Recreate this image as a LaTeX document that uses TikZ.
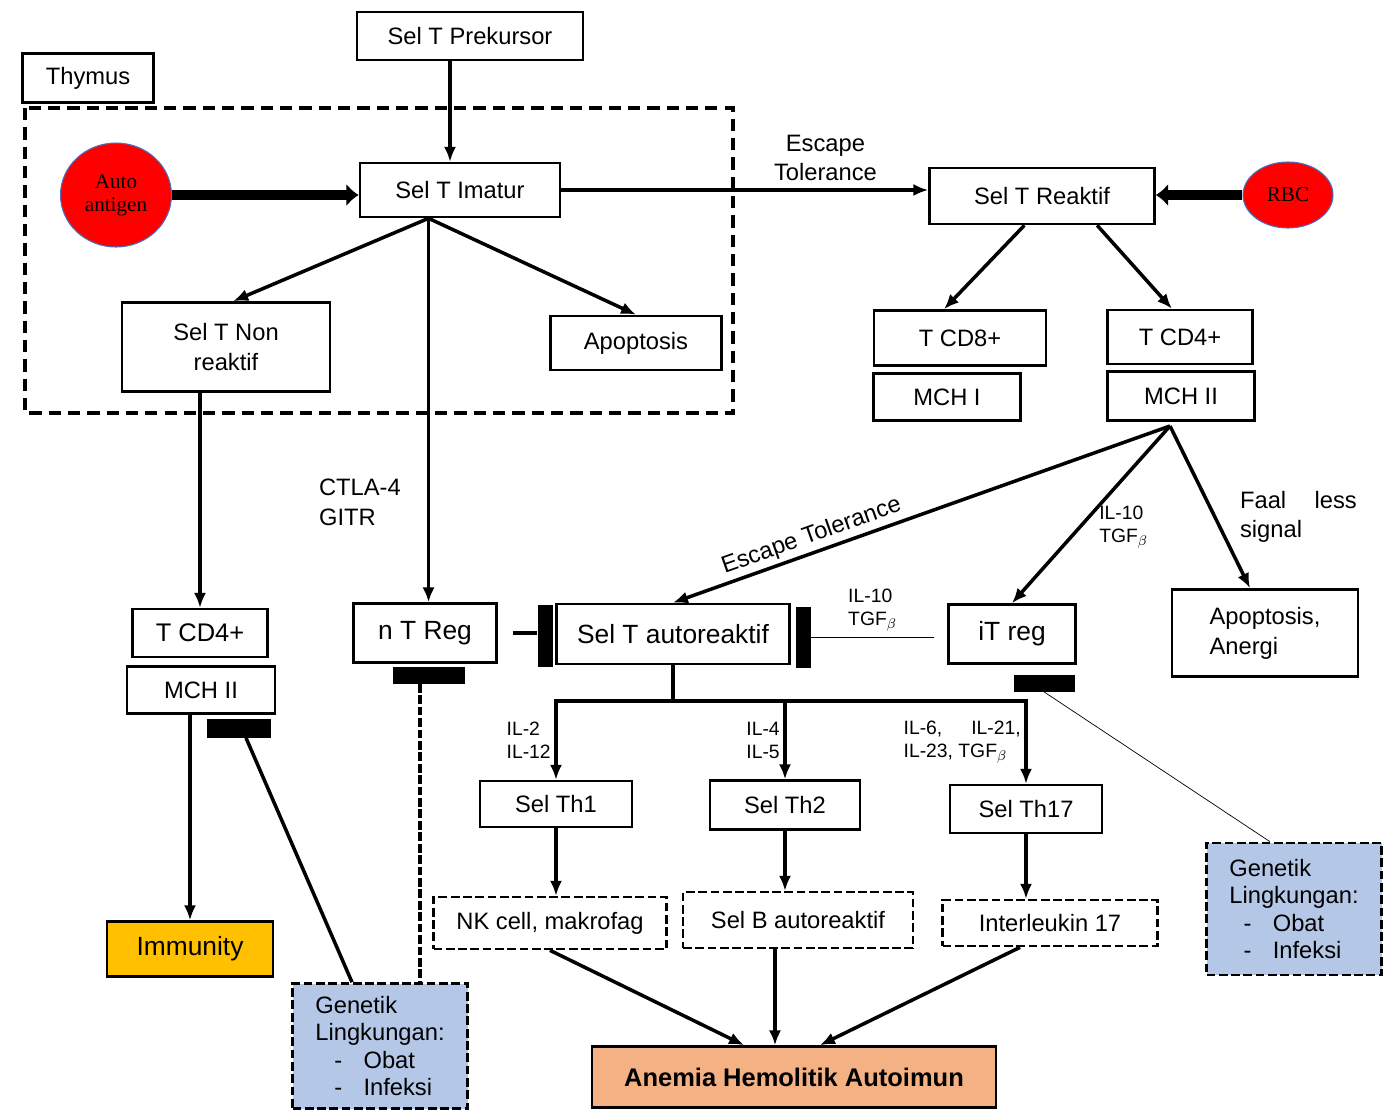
\documentclass[tikz,border=0pt]{standalone}
\usepackage{fontspec}
\setmainfont{Liberation Sans}
\newfontfamily\agfont{Liberation Serif}
\usetikzlibrary{shapes,arrows,arrows.meta,positioning}

\definecolor{immgold}{HTML}{FFC000}
\definecolor{ahaorange}{HTML}{F4B183}
\definecolor{genblue}{HTML}{B4C7E7}
\definecolor{celledge}{HTML}{4472C4}

\tikzset{
  wh/.style 2 args={minimum width=#1*0.02cm, minimum height=#2*0.02cm},
  box/.style={rectangle, draw, line width=1.5pt, inner sep=2pt},
  dbox/.style={box, dash pattern=on 5pt off 2pt},
  big/.style={font=\fontsize{15}{17}\selectfont},
  lbl/.style={draw=none, inner sep=2pt},
  ilbl/.style={lbl, font=\fontsize{11}{13}\selectfont, align=left},
  arr/.style={-{Latex[length=8.5pt,width=7pt]}, line width=2pt},
  fat/.style={-{Latex[length=7pt,width=13pt]}, line width=5.5pt},
  blk/.style={fill=black, draw=none, inner sep=0pt},
  cell/.style={ellipse, fill=red, draw=celledge, line width=0.6pt, inner sep=0pt,
    font=\agfont\fontsize{12}{13}\selectfont}
}

\begin{document}
\begin{tikzpicture}[x=0.02cm, y=-0.02cm,
    every node/.style={font=\fontsize{13.5}{17}\selectfont, align=center}]
\useasboundingbox (0,0) rectangle (1387,1110);

% thymus area
\draw[line width=2pt, dash pattern=on 7pt off 4pt] (25,108) rectangle (733,413);

\node[box, wh={226}{48}] (prekursor) at (470,36) {Sel T Prekursor};
\node[box, wh={131}{49}] (thymus) at (88,78) {Thymus};
\node[cell, wh={111}{104}] (autoag) at (116,195) {Auto\\antigen};
\node[box, wh={200}{54}] (imatur) at (460,190) {Sel T Imatur};
\node[box, wh={208}{89}] (nonreaktif) at (226,347) {Sel T Non\\reaktif};
\node[box, wh={171}{54}] (apop) at (636,343) {Apoptosis};

\node[box, wh={225}{56}] (reaktif) at (1042,196) {Sel T Reaktif};
\node[cell, wh={90}{66}] (rbc) at (1288,195) {RBC};
\node[box, wh={172}{55}] (cdviii) at (960,338) {T CD8+};
\node[box, wh={147}{47}] (mchi) at (947,397) {MCH I};
\node[box, wh={145}{54}] (cdiv) at (1180,337) {T CD4+};
\node[box, wh={147}{49}] (mchii) at (1181,396) {MCH II};
\coordinate (fork) at (1170,426);

\node[box, wh={135}{48}, font=\fontsize{14.5}{17}\selectfont] (cdivL) at (200,633) {T CD4+};
\node[box, wh={148}{47}] (mchiiL) at (201,690) {MCH II};
\node[box, wh={166}{55}, fill=immgold, big] (immunity) at (190,949) {Immunity};
\node[box, wh={143}{59}, big] (ntreg) at (425,633) {n T Reg};
\node[box, wh={233}{60}, big] (autoreaktif) at (673,634) {Sel T autoreaktif};
\node[box, wh={127}{59}, big] (itreg) at (1012,634) {iT reg};
\node[box, wh={186}{87}, align=left] (apopanergi) at (1265,633) {Apoptosis,\\Anergi};

\node[blk, wh={15}{62}] (barA) at (545,636) {};
\node[blk, wh={15}{61}] (barB) at (803,637) {};
\node[blk, wh={72}{17}] (blkN) at (429,675) {};
\node[blk, wh={61}{17}] (blkI) at (1044,683) {};
\node[blk, wh={64}{19}] (blkM) at (239,728) {};

\node[box, wh={152}{46}] (thi) at (556,804) {Sel Th1};
\node[box, wh={150}{49}] (thii) at (785,805) {Sel Th2};
\node[box, wh={152}{48}] (thxvii) at (1026,809) {Sel Th17};
\node[dbox, wh={233}{52}] (nkcell) at (550,923) {NK cell, makrofag};
\node[dbox, wh={230}{56}] (selb) at (798,920) {Sel B autoreaktif};
\node[dbox, wh={215}{46}] (ilxvii) at (1050,923) {Interleukin 17};
\node[box, wh={404}{61}, fill=ahaorange, font=\bfseries\fontsize{14.5}{17}\selectfont] (anemia) at (794,1077) {Anemia Hemolitik Autoimun};

\node[dbox, wh={175}{125}, fill=genblue, align=left, font=\fontsize{13.5}{15.5}\selectfont] (genL) at (380,1046)
  {Genetik\\Lingkungan:\\\hspace*{0.8em}-\hspace*{0.9em}Obat\\\hspace*{0.8em}-\hspace*{0.9em}Infeksi};
\node[dbox, wh={175}{132}, fill=genblue, align=left, font=\fontsize{13.5}{15.5}\selectfont] (genR) at (1294,909)
  {Genetik\\Lingkungan:\\\hspace*{0.6em}-\hspace*{0.9em}Obat\\\hspace*{0.6em}-\hspace*{0.9em}Infeksi};

% thymus
\draw[arr] ([xshift=-.2cm]prekursor.south -| imatur.north) -- ([xshift=-.2cm]imatur.north);
\draw[fat] (autoag.east) -- (autoag.east -| imatur.west);
\draw[arr] (imatur.-138) -- (nonreaktif.81);
\draw[arr] (imatur.-138) -- (apop.north);
\draw[arr] (imatur.-138) -- node[lbl, pos=0.74, left=0.45cm, align=left] {CTLA-4\\GITR} (imatur.-138 |- ntreg.north);
\draw[arr] (imatur.east) -- node[lbl, pos=0.72, above=2pt] {Escape\\Tolerance} (reaktif.west |- imatur.east);
\draw[arr] (nonreaktif.south -| cdivL.north) -- (cdivL.north);
\draw[arr] (mchiiL.south -| immunity.north) -- (immunity.north);

% periphery
\draw[fat] (rbc.west) -- (reaktif.east |- rbc.west);
\draw[arr] (reaktif.-121) -- (cdviii.119);
\draw[arr] (reaktif.-28) -- (cdiv.106);
\draw[arr] (fork) -- node[lbl, sloped, above, pos=0.71] {Escape Tolerance} (autoreaktif.north);
\draw[arr] (fork) -- node[ilbl, pos=0.57, right=8pt] {IL-10\\TGF$_\beta$} (itreg.north);
\draw[arr] (fork) -- node[lbl, pos=0.56, right=0.4cm, align=left] {Faal\hspace{1.2em}less\\signal} ([xshift=-.3cm]apopanergi.north);

% inhibition
\draw[line width=2pt] ([xshift=.3cm]ntreg.east) -- (barA.west |- ntreg.east);
\draw[thin] (barB.east) -- node[ilbl, above=1pt] {IL-10\\TGF$_\beta$} ([xshift=-.26cm]barB.east -| itreg.west);

% T helper
\coordinate (bus) at (673,701);
\draw[line width=2pt] (autoreaktif.south) -- (bus);
\draw[arr] (bus) -| node[ilbl, pos=0.75, left] {IL-2\\IL-12} (thi.north);
\draw[arr] (bus) -| node[ilbl, pos=0.75, left] {IL-4\\IL-5} (thii.north);
\draw[arr] (bus) -| node[ilbl, pos=0.75, left] {IL-6,\hspace{1.5em}IL-21,\\IL-23, TGF$_\beta$} (thxvii.north);
\draw[arr] (thi.south) -- (thi.south |- nkcell.north);
\draw[arr] (thii.south) -- (thii.south |- selb.north);
\draw[arr] (thxvii.south) -- (thxvii.south |- ilxvii.north);
\draw[arr] (nkcell.south) -- ([xshift=-1cm]anemia.north);
\draw[arr] ([xshift=-.46cm]selb.south) -- ([xshift=-.46cm]selb.south |- anemia.north);
\draw[arr] ([xshift=-.6cm]ilxvii.south) -- ([xshift=.52cm]anemia.north);

% factors
\draw[line width=2pt] ([xshift=.14cm]blkM.south) -- ([xshift=-.56cm]genL.north);
\draw[line width=2pt, dash pattern=on 5pt off 1.5pt] ([xshift=-.18cm]blkN.south) -- ([xshift=-.18cm]blkN.south |- genL.north);
\draw[thin] (blkI.south) -- ([xshift=-.48cm]genR.north);
\end{tikzpicture}
\end{document}
